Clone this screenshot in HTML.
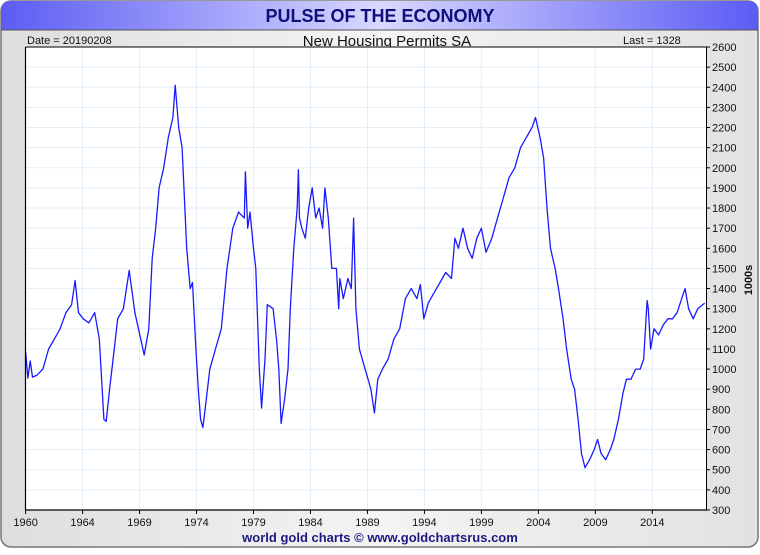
<!DOCTYPE html>
<html><head><meta charset="utf-8">
<style>
body{margin:0;background:#fff;font-family:"Liberation Sans",sans-serif;}
#wrap{position:relative;width:760px;height:550px;}
</style></head>
<body>
<div id="wrap">
<svg id="svg" width="760" height="550" xmlns="http://www.w3.org/2000/svg">
<defs>
<linearGradient id="hdr" x1="0" x2="1" y1="0" y2="0">
<stop offset="0" stop-color="#5c5cf5"/><stop offset="0.5" stop-color="#d8d8ff"/><stop offset="1" stop-color="#5c5cf5"/>
</linearGradient>
<linearGradient id="bg" x1="0" x2="1" y1="0" y2="0">
<stop offset="0" stop-color="#dedede"/><stop offset="0.5" stop-color="#f4f4f4"/><stop offset="1" stop-color="#e2e2e2"/>
</linearGradient>
</defs>
<rect x="1" y="1" width="757" height="546" rx="10" fill="url(#bg)" stroke="#777" stroke-width="1.5"/>
<path d="M1,30 L1,11 Q1,1 11,1 L748,1 Q758,1 758,11 L758,30 Z" fill="url(#hdr)"/>
<line x1="1" y1="30" x2="758" y2="30" stroke="#555" stroke-width="1"/>
<text x="380" y="22" text-anchor="middle" font-size="18" font-weight="bold" fill="#10107a">PULSE OF THE ECONOMY</text>
<text x="27" y="44" font-size="11" fill="#111">Date = 20190208</text>
<text x="387" y="46" text-anchor="middle" font-size="15" fill="#111">New Housing Permits SA</text>
<text x="623" y="44" font-size="11" fill="#111">Last = 1328</text>
<rect x="25.5" y="47" width="681" height="463" fill="#fff"/>
<g id="grid"></g>
<g id="series"></g>
<line x1="25.5" y1="47" x2="706.5" y2="47" stroke="#000" stroke-width="1"/>
<line x1="25.5" y1="47" x2="25.5" y2="510" stroke="#000" stroke-width="1.2"/>
<line x1="25.5" y1="510" x2="706.5" y2="510" stroke="#000" stroke-width="1.2"/>
<line x1="706.5" y1="47" x2="706.5" y2="510" stroke="#000" stroke-width="1"/>
<g id="axes"></g>
<text transform="translate(752,280) rotate(-90)" text-anchor="middle" font-size="11" font-weight="bold" fill="#111">1000s</text>
<text x="380" y="542" text-anchor="middle" font-size="13" font-weight="bold" fill="#1a1a80">world gold charts © www.goldchartsrus.com</text>
</svg>
</div>
<script>
const years=[1960,1960.2,1960.4,1960.6,1961,1961.5,1962,1962.5,1963,1963.5,1964,1964.3,1964.6,1965,1965.5,1966,1966.4,1966.8,1967,1967.3,1967.6,1968,1968.5,1969,1969.5,1970,1970.3,1970.7,1971,1971.3,1971.6,1972,1972.4,1972.8,1973,1973.3,1973.6,1974,1974.3,1974.5,1974.8,1975,1975.2,1975.4,1975.7,1976,1976.5,1977,1977.5,1978,1978.5,1979,1979.1,1979.3,1979.5,1979.8,1980,1980.3,1980.5,1980.8,1981,1981.5,1981.8,1982,1982.2,1982.5,1982.8,1983,1983.3,1983.6,1983.7,1983.8,1984,1984.3,1984.6,1984.9,1985.2,1985.5,1985.8,1986,1986.3,1986.6,1987,1987.2,1987.3,1987.6,1988,1988.3,1988.5,1988.7,1989,1989.5,1990,1990.3,1990.6,1991,1991.5,1992,1992.5,1993,1993.5,1994,1994.3,1994.6,1995,1995.5,1996,1996.5,1997,1997.3,1997.6,1998,1998.4,1998.8,1999.2,1999.6,2000,2000.5,2001,2001.5,2002,2002.5,2003,2003.5,2004,2004.3,2004.7,2005,2005.3,2005.6,2006,2006.3,2006.7,2007,2007.4,2007.7,2008,2008.3,2008.6,2009,2009.4,2009.7,2010,2010.4,2010.8,2011.1,2011.5,2011.9,2012.2,2012.6,2013,2013.4,2013.7,2014,2014.1,2014.3,2014.6,2015,2015.4,2015.8,2016.2,2016.6,2017,2017.3,2017.6,2018,2018.4,2019];
const permits=[1085,955,1040,960,970,1000,1100,1150,1200,1280,1320,1440,1280,1250,1230,1280,1150,750,740,900,1050,1250,1300,1490,1280,1150,1070,1200,1550,1700,1900,2000,2150,2250,2410,2200,2100,1600,1400,1430,1100,900,750,710,850,1000,1100,1200,1500,1700,1780,1750,1980,1700,1780,1600,1500,1000,806,1050,1320,1300,1150,1000,730,850,1000,1300,1600,1800,1990,1750,1700,1650,1800,1900,1750,1800,1700,1900,1750,1500,1500,1300,1450,1350,1450,1400,1750,1300,1100,1000,900,782,950,1000,1050,1150,1200,1350,1400,1350,1420,1250,1330,1380,1430,1480,1450,1650,1600,1700,1600,1550,1650,1700,1580,1650,1750,1850,1950,2000,2100,2150,2200,2250,2150,2050,1800,1600,1500,1400,1250,1100,950,900,750,580,510,550,600,650,580,550,600,650,750,880,950,950,1000,1000,1050,1340,1300,1100,1200,1170,1220,1250,1250,1280,1350,1400,1300,1250,1300,1328];
const yTicks=[300,400,500,600,700,800,900,1000,1100,1200,1300,1400,1500,1600,1700,1800,1900,2000,2100,2200,2300,2400,2500,2600];
const xTickYears=[1960,1964.95,1969.9,1974.85,1979.8,1984.75,1989.7,1994.65,1999.6,2004.55,2009.5,2014.45];
const xTickLabels=["1960","1964","1969","1974","1979","1984","1989","1994","1999","2004","2009","2014"];
const NS="http://www.w3.org/2000/svg";
const X0=25.6,XPY=11.51,Y0=510,YPU=463/2300;
function xs(yr){return X0+(yr-1960)*XPY;}
function ys(v){return Y0-(v-300)*YPU;}
const grid=document.getElementById('grid'),axes=document.getElementById('axes'),series=document.getElementById('series');
function mk(tag,attrs,parent){const e=document.createElementNS(NS,tag);for(const k in attrs)e.setAttribute(k,attrs[k]);parent.appendChild(e);return e;}
yTicks.forEach(v=>{
  const y=ys(v);
  if(v>300&&v<2600){const g=mk('line',{x1:25.5,x2:706.5,y1:y,y2:y,stroke:'#e3eef8','stroke-width':1},grid);
  
  }
  const t=mk('line',{x1:706.5,x2:710,y1:y,y2:y,stroke:'#000','stroke-width':1},axes);
  
  
  const l=mk('text',{x:712,y:y+4,'font-size':11,fill:'#111'},axes);
  l.textContent=v;
  
  
});
xTickYears.forEach((yr,i)=>{
  const x=xs(yr);
  if(i>0){const g=mk('line',{x1:x,x2:x,y1:47,y2:510,stroke:'#e3eef8','stroke-width':1},grid);
  
  }
  const t=mk('line',{x1:x,x2:x,y1:510,y2:514,stroke:'#000','stroke-width':1},axes);
  
  
  const l=mk('text',{x:x,y:526,'font-size':11,fill:'#111','text-anchor':'middle'},axes);
  l.textContent=xTickLabels[i];
  
  
});
let d='';
years.forEach((yr,i)=>{d+=(i?'L':'M')+xs(yr).toFixed(1)+','+ys(permits[i]).toFixed(1);});
const p=mk('path',{d:d,fill:'none',stroke:'#1a1aff','stroke-width':1.3,'stroke-linejoin':'round'},series);


</script>
</body></html>
